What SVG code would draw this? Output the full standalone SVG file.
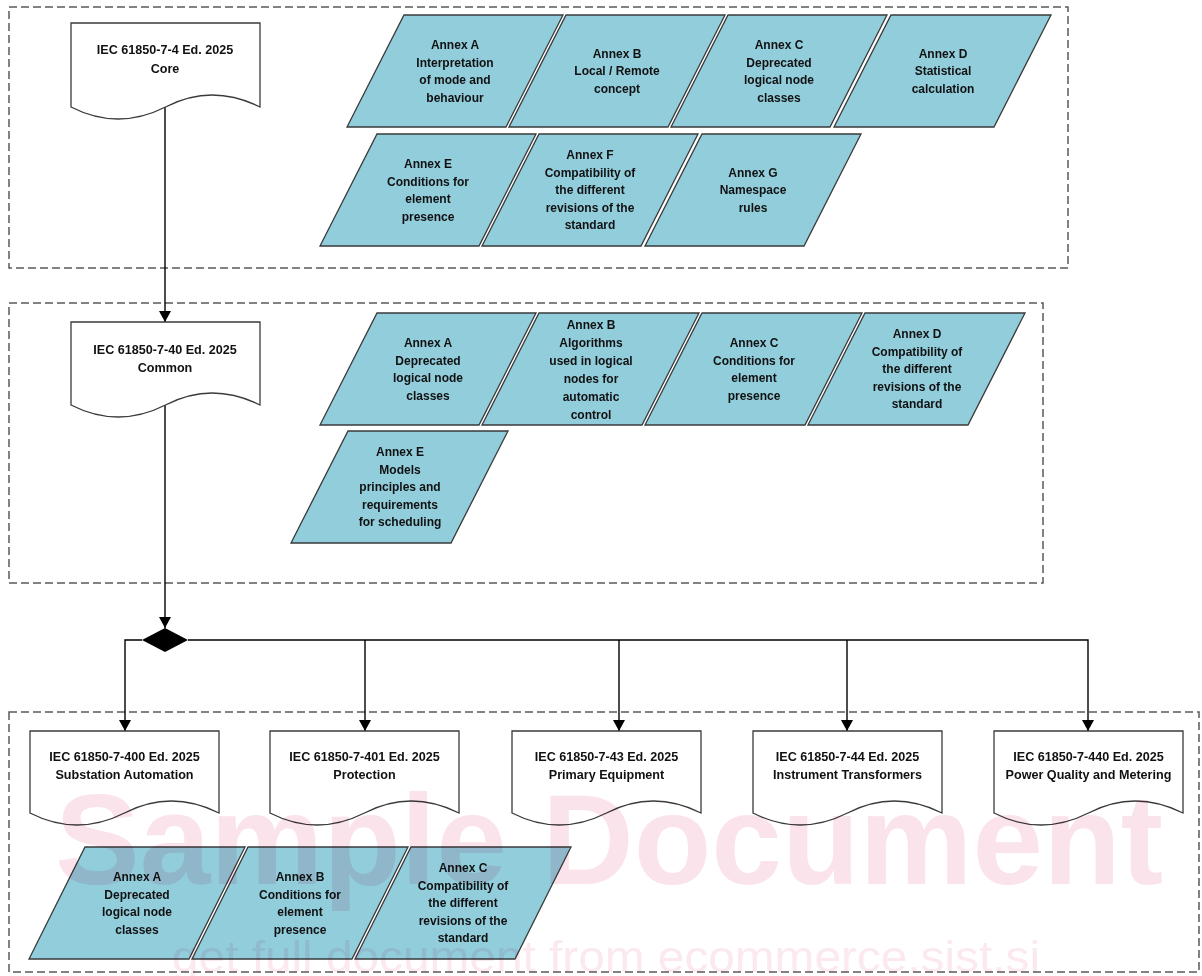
<svg xmlns="http://www.w3.org/2000/svg" width="1202" height="976" viewBox="0 0 1202 976">
<style>
.frame{fill:none;stroke:#5a5a5a;stroke-width:1.5;stroke-dasharray:8 4}
.doc{fill:#fff;stroke:#3a3a3a;stroke-width:1.3}
.para{fill:#92CDDC;stroke:#3a3a3a;stroke-width:1.3}
.t{font-family:"Liberation Sans",Arial,sans-serif;font-size:12px;font-weight:bold;fill:#111;text-anchor:middle}
.d{font-size:12.6px}
.con{fill:none;stroke:#000;stroke-width:1.4}
.wm1{font-family:"Liberation Sans",Arial,sans-serif;font-size:128px;font-weight:bold;fill:#fbe3eb;mix-blend-mode:multiply}
.wm2{font-family:"Liberation Sans",Arial,sans-serif;font-size:44px;fill:#fce9ef;mix-blend-mode:multiply}
</style>
<defs>
<marker id="arr" markerUnits="userSpaceOnUse" markerWidth="11" markerHeight="12" refX="11" refY="6" orient="auto">
<path d="M0,0 L11,6 L0,12 Z" fill="#000"/>
</marker>
</defs>
<rect width="1202" height="976" fill="#fff"/>

<g id="frames">
<rect class="frame" x="9" y="7" width="1059" height="261"/>
<rect class="frame" x="9" y="303" width="1034" height="280"/>
<rect class="frame" x="9" y="712" width="1190" height="260"/>
</g>

<g id="connectors">
<path class="con" d="M165,107 V322" marker-end="url(#arr)"/>
<path class="con" d="M165,405 V628" marker-end="url(#arr)"/>
<path class="con" d="M142,640 H125 V731" marker-end="url(#arr)"/>
<path class="con" d="M188,640 H1088 V731" marker-end="url(#arr)"/>
<path class="con" d="M365,640 V731" marker-end="url(#arr)"/>
<path class="con" d="M619,640 V731" marker-end="url(#arr)"/>
<path class="con" d="M847,640 V731" marker-end="url(#arr)"/>
</g>

<g id="junction"><polygon points="165,628 188,640 165,652 142,640" fill="#000"/></g>

<g id="doc-core">
<path class="doc" d="M71,23 H260 V107 Q212,83 165.5,107 Q118,131 71,107 Z"/>
<text class="t d" x="165" y="54">IEC 61850-7-4 Ed. 2025</text>
<text class="t d" x="165" y="73">Core</text>
</g>
<g id="doc-common">
<path class="doc" d="M71,322 H260 V405 Q212,381 165.5,405 Q118,429 71,405 Z"/>
<text class="t d" x="165" y="354">IEC 61850-7-40 Ed. 2025</text>
<text class="t d" x="165" y="372">Common</text>
</g>
<g id="doc-400">
<path class="doc" d="M30,731 H219 V813 Q171,789 124.5,813 Q77,837 30,813 Z"/>
<text class="t d" x="124.5" y="761">IEC 61850-7-400 Ed. 2025</text>
<text class="t d" x="124.5" y="779">Substation Automation</text>
</g>
<g id="doc-401">
<path class="doc" d="M270,731 H459 V813 Q411,789 364.5,813 Q317,837 270,813 Z"/>
<text class="t d" x="364.5" y="761">IEC 61850-7-401 Ed. 2025</text>
<text class="t d" x="364.5" y="779">Protection</text>
</g>
<g id="doc-43">
<path class="doc" d="M512,731 H701 V813 Q653,789 606.5,813 Q559,837 512,813 Z"/>
<text class="t d" x="606.5" y="761">IEC 61850-7-43 Ed. 2025</text>
<text class="t d" x="606.5" y="779">Primary Equipment</text>
</g>
<g id="doc-44">
<path class="doc" d="M753,731 H942 V813 Q894,789 847.5,813 Q800,837 753,813 Z"/>
<text class="t d" x="847.5" y="761">IEC 61850-7-44 Ed. 2025</text>
<text class="t d" x="847.5" y="779">Instrument Transformers</text>
</g>
<g id="doc-440">
<path class="doc" d="M994,731 H1183 V813 Q1135,789 1088.5,813 Q1041,837 994,813 Z"/>
<text class="t d" x="1088.5" y="761">IEC 61850-7-440 Ed. 2025</text>
<text class="t d" x="1088.5" y="779">Power Quality and Metering</text>
</g>

<g id="core-annex-a">
<polygon class="para" points="404,15 563,15 506,127 347,127"/>
<text class="t" x="455" y="49">Annex A</text><text class="t" x="455" y="66.5">Interpretation</text><text class="t" x="455" y="84">of mode and</text><text class="t" x="455" y="101.5">behaviour</text>
</g>
<g id="core-annex-b">
<polygon class="para" points="566,15 725,15 668,127 509,127"/>
<text class="t" x="617" y="57.5">Annex B</text><text class="t" x="617" y="75">Local / Remote</text><text class="t" x="617" y="92.5">concept</text>
</g>
<g id="core-annex-c">
<polygon class="para" points="728,15 887,15 830,127 671,127"/>
<text class="t" x="779" y="49">Annex C</text><text class="t" x="779" y="66.5">Deprecated</text><text class="t" x="779" y="84">logical node</text><text class="t" x="779" y="101.5">classes</text>
</g>
<g id="core-annex-d">
<polygon class="para" points="891,15 1051,15 994,127 834,127"/>
<text class="t" x="943" y="57.5">Annex D</text><text class="t" x="943" y="75">Statistical</text><text class="t" x="943" y="92.5">calculation</text>
</g>
<g id="core-annex-e">
<polygon class="para" points="377,134 536,134 479,246 320,246"/>
<text class="t" x="428" y="168">Annex E</text><text class="t" x="428" y="185.5">Conditions for</text><text class="t" x="428" y="203">element</text><text class="t" x="428" y="220.5">presence</text>
</g>
<g id="core-annex-f">
<polygon class="para" points="539,134 698,134 641,246 482,246"/>
<text class="t" x="590" y="159">Annex F</text><text class="t" x="590" y="176.5">Compatibility of</text><text class="t" x="590" y="194">the different</text><text class="t" x="590" y="211.5">revisions of the</text><text class="t" x="590" y="229">standard</text>
</g>
<g id="core-annex-g">
<polygon class="para" points="702,134 861,134 804,246 645,246"/>
<text class="t" x="753" y="176.5">Annex G</text><text class="t" x="753" y="194">Namespace</text><text class="t" x="753" y="211.5">rules</text>
</g>

<g id="common-annex-a">
<polygon class="para" points="377,313 536,313 479,425 320,425"/>
<text class="t" x="428" y="347">Annex A</text><text class="t" x="428" y="364.5">Deprecated</text><text class="t" x="428" y="382">logical node</text><text class="t" x="428" y="399.5">classes</text>
</g>
<g id="common-annex-b">
<polygon class="para" points="539,313 699,313 642,425 482,425"/>
<text class="t" x="591" y="329">Annex B</text><text class="t" x="591" y="347">Algorithms</text><text class="t" x="591" y="365">used in logical</text><text class="t" x="591" y="383">nodes for</text><text class="t" x="591" y="401">automatic</text><text class="t" x="591" y="419">control</text>
</g>
<g id="common-annex-c">
<polygon class="para" points="702,313 862,313 805,425 645,425"/>
<text class="t" x="754" y="347">Annex C</text><text class="t" x="754" y="364.5">Conditions for</text><text class="t" x="754" y="382">element</text><text class="t" x="754" y="399.5">presence</text>
</g>
<g id="common-annex-d">
<polygon class="para" points="865,313 1025,313 968,425 808,425"/>
<text class="t" x="917" y="338">Annex D</text><text class="t" x="917" y="355.5">Compatibility of</text><text class="t" x="917" y="373">the different</text><text class="t" x="917" y="390.5">revisions of the</text><text class="t" x="917" y="408">standard</text>
</g>
<g id="common-annex-e">
<polygon class="para" points="348,431 508,431 451,543 291,543"/>
<text class="t" x="400" y="456">Annex E</text><text class="t" x="400" y="473.5">Models</text><text class="t" x="400" y="491">principles and</text><text class="t" x="400" y="508.5">requirements</text><text class="t" x="400" y="526">for scheduling</text>
</g>

<g id="ln-annex-a">
<polygon class="para" points="85,847 245,847 189,959 29,959"/>
<text class="t" x="137" y="881">Annex A</text><text class="t" x="137" y="898.5">Deprecated</text><text class="t" x="137" y="916">logical node</text><text class="t" x="137" y="933.5">classes</text>
</g>
<g id="ln-annex-b">
<polygon class="para" points="248,847 408,847 352,959 192,959"/>
<text class="t" x="300" y="881">Annex B</text><text class="t" x="300" y="898.5">Conditions for</text><text class="t" x="300" y="916">element</text><text class="t" x="300" y="933.5">presence</text>
</g>
<g id="ln-annex-c">
<polygon class="para" points="411,847 571,847 515,959 355,959"/>
<text class="t" x="463" y="872">Annex C</text><text class="t" x="463" y="889.5">Compatibility of</text><text class="t" x="463" y="907">the different</text><text class="t" x="463" y="924.5">revisions of the</text><text class="t" x="463" y="942">standard</text>
</g>

<g id="watermark">
<text class="wm1" x="55" y="884" textLength="1108" lengthAdjust="spacingAndGlyphs">Sample Document</text>
<text class="wm2" x="172" y="972" textLength="868" lengthAdjust="spacingAndGlyphs">get full document from ecommerce.sist.si</text>
</g>
</svg>
